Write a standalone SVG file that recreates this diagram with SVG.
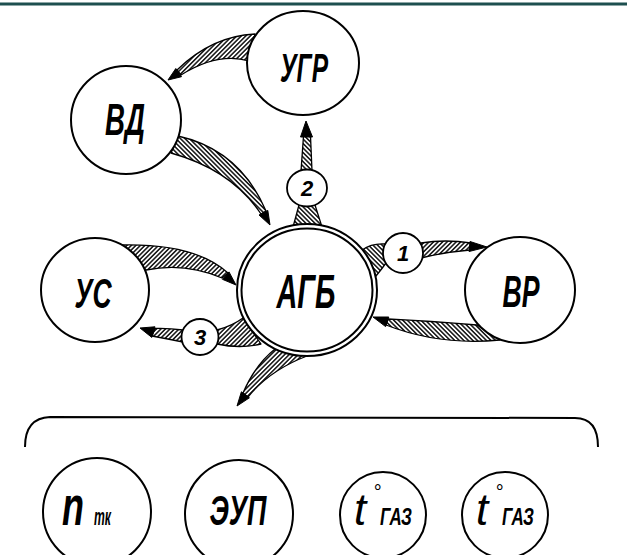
<svg xmlns="http://www.w3.org/2000/svg" width="627" height="555" viewBox="0 0 627 555">
<defs>
<pattern id="hatchA" patternUnits="userSpaceOnUse" width="3.2" height="3.2" patternTransform="rotate(45)"><rect width="3.2" height="3.2" fill="#fff"/><line x1="0.8" y1="0" x2="0.8" y2="3.2" stroke="#000" stroke-width="1.4"/></pattern>
<pattern id="hatchB" patternUnits="userSpaceOnUse" width="3.2" height="3.2" patternTransform="rotate(-45)"><rect width="3.2" height="3.2" fill="#fff"/><line x1="0.8" y1="0" x2="0.8" y2="3.2" stroke="#000" stroke-width="1.4"/></pattern>
</defs>
<style>
.n{fill:#fff;stroke:#000;stroke-width:2}
.s{fill:#fff;stroke:#000;stroke-width:1.8}
.t{font-family:"Liberation Sans",Arial,sans-serif;font-style:italic;font-weight:bold;fill:#000;text-anchor:middle}
.tl{font-family:"Liberation Sans",Arial,sans-serif;font-style:italic;font-weight:bold;fill:#000}
.tr{font-family:"Liberation Sans",Arial,sans-serif;font-style:italic;font-weight:normal;fill:#000}
.bA{fill:url(#hatchA);stroke:#000;stroke-width:1.3;stroke-linejoin:round}
.bB{fill:url(#hatchB);stroke:#000;stroke-width:1.3;stroke-linejoin:round}
.h{fill:#000;stroke:#000;stroke-width:1;stroke-linejoin:round}
.br{fill:none;stroke:#000;stroke-width:2}
</style>
<rect x="0" y="0" width="627" height="555" fill="#fff"/>
<rect x="0" y="2.5" width="627" height="3" fill="#1d4f4f"/>

<g id="connectors">
  <!-- УГР -> ВД -->
  <path class="bA" d="M255,34 Q212,36 177,70 L181,75 Q218,52 249,61 Z"/>
  <polygon class="h" points="168,80 175.8,68.5 181.5,76.7"/>
  <!-- ВД -> АГБ -->
  <path class="bB" d="M178,136 Q240,150 266,211 L261,214 Q232,170 171,153 Z"/>
  <polygon class="h" points="270,225 267.8,210.4 259,215"/>
  <!-- АГБ -> 2 -> УГР -->
  <path class="bB" d="M293,227 Q307,222 322,227 L315,205 L299,205 Z"/>
  <path class="bB" d="M301,171 L312,171 L310.5,136 L303.5,136 Z"/>
  <polygon class="h" points="306,121 300.5,137 312.5,137"/>
  <!-- УС -> АГБ -->
  <path class="bA" d="M120,245 Q195,243 228,273 L222,278 Q185,262 146,270 Z"/>
  <polygon class="h" points="236,285 229,271.9 222.4,279.3"/>
  <!-- АГБ -> 3 -> УС -->
  <path class="bA" d="M243,318 Q232,326 217,330 L217,344 Q240,349 261,344 Z"/>
  <path class="bA" d="M183,330 Q168,328 155,328.5 L152,336 Q168,339 183,342 Z"/>
  <polygon class="h" points="140,328 155,326.8 151.8,337.4"/>
  <!-- АГБ -> 1 -> ВР -->
  <path class="bB" d="M362,250 Q372,243 385,244 L386,263 Q381,270 376,276 Z"/>
  <path class="bA" d="M421,243 Q445,239 471,243 L470,250 Q445,252 421,258 Z"/>
  <polygon class="h" points="487,247 470,241.5 469,251.5"/>
  <!-- ВР -> АГБ -->
  <path class="bB" d="M477,325 Q430,321 388,319 L386,325 Q440,346 500,340 Z"/>
  <polygon class="h" points="373,317 388.8,317 385.6,326.6"/>
  <!-- АГБ -> группа -->
  <path class="bA" d="M275,349 Q255,365 243,393 L248,397 Q270,370 307,356 Z"/>
  <polygon class="h" points="237,406 249.4,397.8 241.4,391.8"/>
  <!-- bracket -->
  <path class="br" d="M25,447 Q25,418 50,417 L575,418 Q598,418 598,447"/>
</g>

<g id="node-ugr">
  <ellipse class="n" cx="303" cy="63" rx="56" ry="52"/>
  <text class="t" x="304" y="82" font-size="40" textLength="48" lengthAdjust="spacingAndGlyphs">УГР</text>
</g>
<g id="node-vd">
  <ellipse class="n" cx="126" cy="120" rx="55" ry="54"/>
  <text class="t" x="125" y="135" font-size="44" textLength="40" lengthAdjust="spacingAndGlyphs">ВД</text>
</g>
<g id="node-agb">
  <ellipse class="n" cx="307" cy="290" rx="70" ry="66"/>
  <ellipse class="n" cx="307" cy="290" rx="65.5" ry="61.5"/>
  <text class="t" x="306" y="308" font-size="48" textLength="59" lengthAdjust="spacingAndGlyphs">АГБ</text>
</g>
<g id="node-us">
  <ellipse class="n" cx="95" cy="290" rx="54" ry="52"/>
  <text class="t" x="93" y="308" font-size="43" textLength="37" lengthAdjust="spacingAndGlyphs">УС</text>
</g>
<g id="node-vr">
  <ellipse class="n" cx="520" cy="290" rx="55" ry="53"/>
  <text class="t" x="521" y="307" font-size="44" textLength="37" lengthAdjust="spacingAndGlyphs">ВР</text>
</g>
<g id="label-1">
  <circle class="s" cx="403" cy="253" r="20"/>
  <text class="t" x="403" y="261" font-size="22">1</text>
</g>
<g id="label-2">
  <ellipse class="s" cx="307" cy="188" rx="20" ry="18.5"/>
  <text class="t" x="307" y="196" font-size="22">2</text>
</g>
<g id="label-3">
  <ellipse class="s" cx="200" cy="337" rx="18.5" ry="18"/>
  <text class="t" x="200" y="345" font-size="22">3</text>
</g>
<g id="node-ntk">
  <ellipse class="n" cx="97" cy="512" rx="54" ry="54"/>
  <text class="tl" x="62" y="525" font-size="56" textLength="22" lengthAdjust="spacingAndGlyphs">n</text>
  <text class="tl" x="94" y="525" font-size="24" textLength="17" lengthAdjust="spacingAndGlyphs">тк</text>
</g>
<g id="node-eup">
  <ellipse class="n" cx="239" cy="514" rx="54" ry="54"/>
  <text class="t" x="238" y="525" font-size="42" textLength="57" lengthAdjust="spacingAndGlyphs">ЭУП</text>
</g>
<g id="node-tgaz1">
  <ellipse class="n" cx="383" cy="515" rx="43" ry="43"/>
  <text class="tr" x="354" y="525" font-size="44">t</text>
  <text class="tr" x="373" y="499" font-size="20">°</text>
  <text class="tl" x="380" y="525" font-size="23" textLength="32" lengthAdjust="spacingAndGlyphs">ГАЗ</text>
</g>
<g id="node-tgaz2">
  <ellipse class="n" cx="505" cy="515" rx="43" ry="43"/>
  <text class="tr" x="476" y="525" font-size="44">t</text>
  <text class="tr" x="495" y="499" font-size="20">°</text>
  <text class="tl" x="502" y="525" font-size="23" textLength="32" lengthAdjust="spacingAndGlyphs">ГАЗ</text>
</g>
</svg>
